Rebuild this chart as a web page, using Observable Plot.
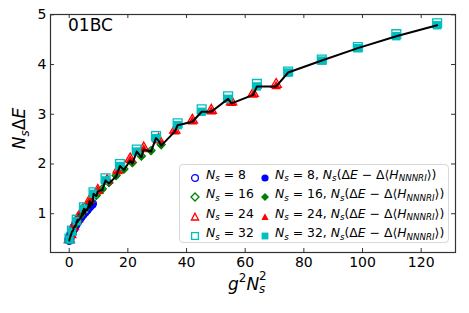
<!DOCTYPE html>
<html><head><meta charset="utf-8">
<script src="https://cdn.jsdelivr.net/npm/d3@7"></script>
<script src="https://cdn.jsdelivr.net/npm/@observablehq/plot@0.6"></script>
<style>
body{margin:0;background:#fff;}
#wrap{position:relative;width:469px;height:313px;font-family:"DejaVu Sans",sans-serif;color:#000;}
#wrap svg.plot{position:absolute;left:0;top:0;}
.ov{position:absolute;white-space:nowrap;line-height:1;}
.m i{font-family:"DejaVu Sans";font-style:oblique;}
.sb{font-size:70%;position:relative;top:0.3em;line-height:1;}
.sp{font-size:70%;position:relative;top:-0.67em;line-height:1;}
.stack{display:inline-block;position:relative;width:0.62em;height:0;}
.stack .u{position:absolute;left:0;top:-1.58em;font-size:70%;line-height:1;}
.stack .d{position:absolute;left:0;top:-0.44em;font-size:70%;line-height:1;}
#legend{position:absolute;left:179px;top:164px;width:270px;height:79px;border:1px solid #d8d8d8;border-radius:4px;background:rgba(255,255,255,0.85);box-sizing:border-box;}
.le{position:absolute;font-size:12.4px;white-space:nowrap;line-height:1;}
.lm{position:absolute;}
</style></head><body><div id="wrap"></div>
<script>
// ---- data ----
const gValues = [0.01,0.03,0.05,0.07,0.09,0.11,0.13,0.15,0.17,0.19,0.21,0.23,0.25,0.27,0.29,0.31,0.33,0.35];
const systemSizes = [8,16,24,32];
// N_s * DeltaE (open markers)
const openNs8  = [0.47,0.49,0.51,0.54,0.57,0.61,0.65,0.69,0.74,0.79,0.84,0.89,0.94,0.99,1.04,1.09,1.15,1.20];
const openNs16 = [0.47,0.52,0.60,0.68,0.78,0.88,0.99,1.11,1.24,1.37,1.50,1.63,1.77,1.90,2.03,2.16,2.27,2.39];
const openNs24 = [0.48,0.58,0.74,0.90,1.08,1.27,1.47,1.67,1.88,2.10,2.32,2.50,2.68,2.88,3.08,3.25,3.42,3.60];
const openNs32 = [0.50,0.66,0.88,1.13,1.43,1.71,2.00,2.29,2.56,2.82,3.10,3.36,3.61,3.86,4.10,4.35,4.61,4.83];
// N_s (DeltaE - Delta<H_NNNRI>) (filled markers)
const fillNs8  = [0.46,0.48,0.50,0.53,0.56,0.60,0.64,0.68,0.73,0.78,0.83,0.88,0.93,0.98,1.02,1.07,1.13,1.18];
const fillNs16 = [0.46,0.51,0.58,0.66,0.76,0.86,0.97,1.09,1.22,1.35,1.48,1.61,1.75,1.88,2.01,2.14,2.25,2.37];
const fillNs24 = [0.47,0.57,0.72,0.88,1.06,1.25,1.45,1.64,1.85,2.07,2.29,2.47,2.65,2.85,3.05,3.22,3.39,3.56];
const fillNs32 = [0.48,0.64,0.85,1.10,1.40,1.67,1.96,2.25,2.52,2.78,3.05,3.31,3.56,3.84,4.08,4.33,4.57,4.79];
const xTicks = [0,20,40,60,80,100,120];
const yTicks = [1,2,3,4,5];

const openSets = [openNs8, openNs16, openNs24, openNs32];
const fillSets = [fillNs8, fillNs16, fillNs24, fillNs32];
const colors = ["#0000ff","#008000","#ff0000","#00bfbf"];
const symbols = ["circle","diamond2","triangle","square"];
const radii = [4.2,3.6,3.8,5.0];

const rows = [];
systemSizes.forEach((Ns, k) => {
  gValues.forEach((g, i) => {
    rows.push({Ns, k, x: g*g*Ns*Ns, open: openSets[k][i], filled: fillSets[k][i]});
  });
});
const lineRows = d3.sort(rows, d => d.x);

const W = 469, H = 313, mL = 50, mR = 14, mT = 14, mB = 61;
const fH = H - mT - mB, fW = W - mL - mR;
const ink = "#333";

const marks = [];
systemSizes.forEach((Ns, k) => {
  marks.push(Plot.dot(rows.filter(d => d.k === k), {x: "x", y: "open", symbol: () => symbols[k], r: radii[k], fill: "none", stroke: colors[k], strokeWidth: 1.3}));
});
systemSizes.forEach((Ns, k) => {
  marks.push(Plot.dot(rows.filter(d => d.k === k), {x: "x", y: "filled", symbol: () => symbols[k], r: radii[k]*0.95, fill: colors[k], stroke: "none"}));
});
marks.push(Plot.line(lineRows, {x: "x", y: "filled", stroke: "#000", strokeWidth: 2}));

const chart = Plot.plot({
  width: W, height: H,
  marginLeft: mL, marginRight: mR, marginTop: mT, marginBottom: mB,
  style: {fontFamily: "DejaVu Sans", fontSize: "14px", color: "#000", background: "transparent"},
  x: {domain: [-6.38, 131.7]},
  y: {domain: [0.22, 5.006]},
  symbol: {type: "identity"},
  marks: [
    ...marks,
    Plot.ruleX(xTicks, {x: d => d, stroke: ink, insetTop: fH - 4}),
    Plot.ruleX(xTicks, {x: d => d, stroke: ink, insetBottom: fH - 4}),
    Plot.ruleY(yTicks, {y: d => d, stroke: ink, insetRight: fW - 4}),
    Plot.ruleY(yTicks, {y: d => d, stroke: ink, insetLeft: fW - 4}),
    Plot.axisX(xTicks, {tickSize: 0, tickPadding: 5, fontSize: 14, label: null, tickFormat: "d"}),
    Plot.axisY(yTicks, {tickSize: 0, tickPadding: 4, fontSize: 14, label: null, tickFormat: "d"}),
    Plot.frame({stroke: ink, strokeWidth: 1.2})
  ]
});
chart.classList.add("plot");
const wrap = document.getElementById("wrap");
wrap.appendChild(chart);

function ov(html, css, cls) {
  const d = document.createElement("div");
  d.className = "ov m " + (cls || "");
  d.innerHTML = html;
  Object.assign(d.style, css);
  wrap.appendChild(d);
  return d;
}
// panel tag
ov("01BC", {left: "68px", top: "17px", fontSize: "17px"});
// x label (baseline ~290)
const xl = ov('<i>g</i><span class="sp">2</span><i>N</i><span class="stack"><span class="u">2</span><span class="d"><i>s</i></span></span>', {top: "275.5px", fontSize: "17px"});
xl.style.left = (249 - xl.offsetWidth/2) + "px";
// y label, rotated
const yl = ov('<i>N</i><span class="sb"><i>s</i></span>Δ<i>E</i>', {fontSize: "17px"});
const yw = yl.offsetWidth, yh = yl.offsetHeight;
yl.style.left = (19.8 - yw/2) + "px";
yl.style.top = (128 - yh/2) + "px";
yl.style.transform = "rotate(-90deg)";

// legend
const leg = document.createElement("div");
leg.id = "legend";
wrap.appendChild(leg);
const NS = '<i>N</i><span class="sb"><i>s</i></span>';
function markerSVG(k, filled) {
  const c = colors[k];
  const f = filled ? c : "none", s = filled ? "none" : c;
  let shape;
  if (k === 0) shape = `<circle cx="6" cy="6" r="${filled?3.6:3.4}" fill="${f}" stroke="${s}" stroke-width="1.3"/>`;
  else if (k === 1) shape = `<polygon points="6,2 10,6 6,10 2,6" fill="${f}" stroke="${s}" stroke-width="1.3"/>`;
  else if (k === 2) shape = `<polygon points="6,2.2 9.6,9 2.4,9" fill="${f}" stroke="${s}" stroke-width="1.3"/>`;
  else shape = `<rect x="2.6" y="2.6" width="6.8" height="6.8" fill="${f}" stroke="${s}" stroke-width="1.3"/>`;
  return `<svg width="12" height="12">${shape}</svg>`;
}
systemSizes.forEach((Ns, k) => {
  const cy = 173.5 + k*19.6 - 164;
  const m1 = document.createElement("div"); m1.className = "lm";
  m1.style.left = (194 - 179 - 6) + "px"; m1.style.top = (cy - 6) + "px";
  m1.innerHTML = markerSVG(k, false); leg.appendChild(m1);
  const t1 = document.createElement("div"); t1.className = "le m";
  t1.innerHTML = `${NS} = ${Ns}`;
  t1.style.left = (205 - 179) + "px"; leg.appendChild(t1);
  t1.style.top = (cy - t1.offsetHeight/2) + "px";
  const m2 = document.createElement("div"); m2.className = "lm";
  m2.style.left = (264 - 179 - 6) + "px"; m2.style.top = (cy - 6) + "px";
  m2.innerHTML = markerSVG(k, true); leg.appendChild(m2);
  const t2 = document.createElement("div"); t2.className = "le m";
  t2.innerHTML = `${NS} = ${Ns}, ${NS}(Δ<i>E</i> − Δ⟨<i>H</i><span class="sb"><i>NNNRI</i></span>⟩)`;
  t2.style.left = (274 - 179) + "px"; leg.appendChild(t2);
  t2.style.top = (cy - t2.offsetHeight/2) + "px";
});
</script>
</body></html>
